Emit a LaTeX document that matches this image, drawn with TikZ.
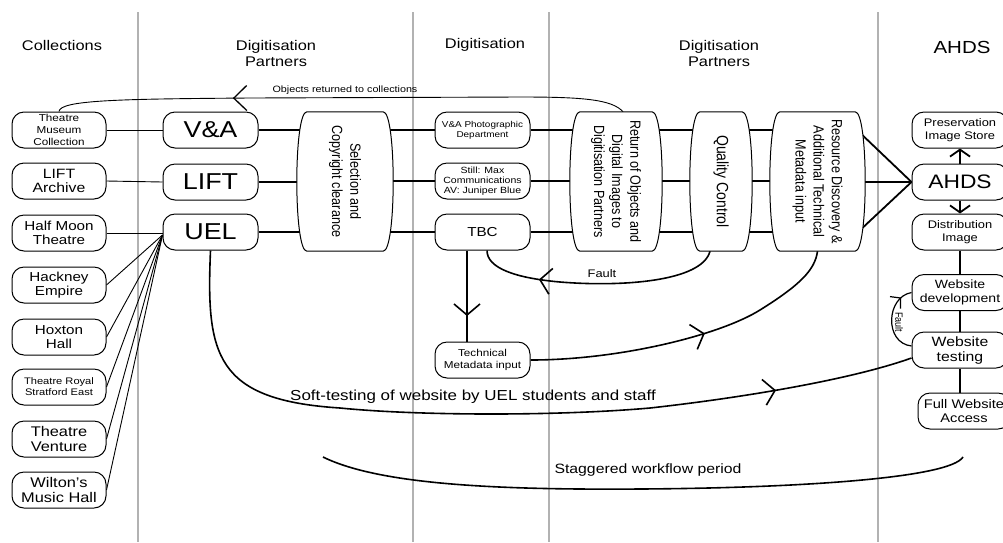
\documentclass[tikz,border=0pt]{standalone}
\usepackage{fontspec}
\setmainfont{Liberation Sans}[FakeStretch=1.17]
\newfontfamily\rotfont{Liberation Sans}
\usetikzlibrary{arrows.meta,decorations.markings,calc}
\pgfdeclarelayer{grid}
\pgfdeclarelayer{background}
\pgfsetlayers{grid,background,main}
\newcommand\fs[2]{\fontsize{#1}{#2}\selectfont}
\newcommand\barrelbox[1]{%
  \draw[barrelline] let \p1=(#1.north west), \p2=(#1.south east) in
    (\x1+10pt,\y1) -- (\x2-10pt,\y1)
    .. controls (\x2+3.33pt,\y1) and (\x2+3.33pt,\y2) .. (\x2-10pt,\y2)
    -- (\x1+10pt,\y2)
    .. controls (\x1-3.33pt,\y2) and (\x1-3.33pt,\y1) .. (\x1+10pt,\y1) -- cycle;}
\begin{document}
\begin{tikzpicture}[x=1pt,y=-1pt,
  box/.style={draw,line width=1pt,rounded corners=12pt,fill=white,
    minimum width=94pt,minimum height=36pt,inner sep=1pt,align=center},
  frame/.style={minimum width=#1,minimum height=139pt,inner sep=0pt},
  barrelline/.style={line width=1pt,fill=white},
  rottext/.style={rotate=-90,yscale=1.17,align=center,font=\rotfont\fs{12.6}{15.5}},
  hdr/.style={align=center,font=\fs{14}{16}},
  gridline/.style={line width=2.6pt,color=black!30},
  thinline/.style={line width=0.9pt},
  flow/.style={line width=1.8pt},
  curve/.style={line width=1.6pt},
  midarr/.style={postaction={decorate},decoration={markings,
    mark=at position #1 with {\arrow{Straight Barb[length=11pt,width=26pt,line width=1.6pt]}}}},
  midarrsmall/.style={postaction={decorate},decoration={markings,
    mark=at position #1 with {\arrow{Straight Barb[length=7pt,width=16pt,line width=1.2pt]}}}},
  midarrthin/.style={postaction={decorate},decoration={markings,
    mark=at position #1 with {\arrow{Straight Barb[length=13pt,width=25pt,line width=1.3pt]}}}},
  endarr/.style={-{Straight Barb[length=7pt,width=20pt,line width=1.8pt]}}
]
\path[use as bounding box] (0,0) rectangle (1003,542);

% headers
\node[hdr] (h1) at (62,45) {Collections};
\node[hdr] (h2) at (276,53.5) {Digitisation\\Partners};
\node[hdr] (h3) at (485,45) {Digitisation};
\node[hdr] (h4) at (719,53.5) {Digitisation\\Partners};
\node[hdr,font=\fs{17.5}{20}] (h5) at (962,47) {AHDS};

% collections
\node[box,font=\fs{10}{12}] (tmc) at (59,130) {Theatre\\Museum\\Collection};
\node[box,font=\fs{13.5}{14.5}] (lfa) at (59,181) {LIFT\\Archive};
\node[box,font=\fs{13}{14.5}] (hmt) at (59,233) {Half Moon\\Theatre};
\node[box,font=\fs{13}{14.5}] (hke) at (59,285) {Hackney\\Empire};
\node[box,font=\fs{13}{14.5}] (hxh) at (59,337) {Hoxton\\Hall};
\node[box,font=\fs{9.5}{11}] (trs) at (59,387) {Theatre Royal\\Stratford East};
\node[box,font=\fs{14}{15}] (tve) at (59,439) {Theatre\\Venture};
\node[box,font=\fs{14}{15}] (wmh) at (59,490) {Wilton's\\Music Hall};

% partners
\node[box,font=\fs{23}{25},minimum width=95pt] (va) at (210.5,130) {V\&A};
\node[box,font=\fs{23}{25},minimum width=95pt] (li) at (210.5,182) {LIFT};
\node[box,font=\fs{23}{25},minimum width=95pt] (ue) at (210.5,232) {UEL};

% barrel frames
\node[frame=96pt] (sel) at (345,181.5) {};
\node[frame=92pt] (ret) at (616,181.5) {};
\node[frame=62pt] (qc) at (721,181.5) {};
\node[frame=95pt] (rd) at (817.5,181.5) {};
\barrelbox{sel}
\barrelbox{ret}
\barrelbox{qc}
\barrelbox{rd}
\node[rottext] (selt) at (sel.center) {Selection and\\Copyright clearance};
\node[rottext] (rett) at (ret.center) {Return of Objects and\\Digital Images to\\Digitisation Partners};
\node[rottext,font=\rotfont\fs{14}{16}] (qct) at (qc.center) {Quality Control};
\node[rottext] (rdt) at (rd.center) {Resource Discovery \&\\Additional Technical\\Metadata input};

% digitisation
\node[box,font=\fs{8.5}{10},minimum width=95pt] (vp) at (482.5,130) {V\&A Photographic\\Department};
\node[box,font=\fs{9}{10},minimum width=95pt] (st) at (482.5,181) {Still: Max\\Communications\\AV: Juniper Blue};
\node[box,font=\fs{13}{14},minimum width=95pt] (tb) at (482.5,232) {TBC};
\node[box,font=\fs{10}{12},minimum width=95pt] (tmi) at (482.5,360) {Technical\\Metadata input};

% AHDS
\node[box,font=\fs{11}{13},minimum width=96pt] (pis) at (960,130) {Preservation\\Image Store};
\node[box,font=\fs{19.5}{21},minimum width=96pt] (ahd) at (960,182) {AHDS};
\node[box,font=\fs{11}{13},minimum width=96pt] (dis) at (960,232) {Distribution\\Image};
\node[box,font=\fs{12}{14},minimum width=96pt] (wdv) at (960,292.5) {Website\\development};
\node[box,font=\fs{13.5}{15},minimum width=96pt] (wts) at (960,350) {Website\\testing};
\node[box,font=\fs{12.5}{14},minimum width=92pt] (fwa) at (964,411) {Full Website\\Access};

% labels
\node[font=\fs{9.2}{10}] (objl) at (345,90) {Objects returned to collections};
\node[font=\fs{11}{12}] (flt1) at (602,274) {Fault};
\node[rotate=-90,yscale=1.17,font=\rotfont\fs{9}{10}] (flt2) at (899,322) {Fault};
\node[font=\fs{14.5}{16}] (soft) at (473,397) {Soft-testing of website by UEL students and staff};
\node[font=\fs{13.5}{15}] (stg) at (648,470) {Staggered workflow period};

\begin{pgfonlayer}{grid}
  \fill[white] (0,0) rectangle (1003,542);
  \foreach \gx in {138,413,549,878}
    \draw[gridline] (\gx,12) -- (\gx,542);
\end{pgfonlayer}

\begin{pgfonlayer}{background}
  % collections to partners
  \draw[thinline] (tmc.east) -- (va.west);
  \draw[thinline] (lfa.east) -- (li.west);
  \draw[thinline] (hmt.east) -- (hmt.east -| ue.west);
  \coordinate (uefan) at ([yshift=-3pt]ue.west);
  \foreach \n in {hke,hxh,trs,tve,wmh}
    \draw[thinline] (\n.east) -- (uefan);
  % main flow
  \foreach \a in {va,li,ue}
    \draw[flow] (\a.east) -- (\a.east -| sel.center);
  \foreach \b in {vp,st,tb} {
    \draw[flow] (\b.west -| sel.center) -- (\b.west);
    \draw[flow] (\b.east) -- (\b.east -| ret.center);
    \draw[flow] (ret.center |- \b.east) -- (rd.center |- \b.east);
  }
  \coordinate (rdA) at (857,130);
  \coordinate (rdB) at (857,182);
  \coordinate (rdC) at (857,233);
  \draw[flow] (rdA) -- (ahd.west);
  \draw[flow] (rdB) -- (ahd.west);
  \draw[flow] (rdC) -- (ahd.west);
  % AHDS column
  \draw[flow,endarr] (ahd.north) -- (pis.south);
  \draw[flow,endarr] (ahd.south) -- (dis.north);
  \draw[flow] (dis.south) -- (wdv.north);
  \draw[flow] (wdv.south) -- (wts.north);
  \draw[flow] (wts.south) -- (wts.south |- fwa.north);
  % website fault loop
  \draw[line width=1.2pt,midarrsmall=0.84] ([yshift=4pt]wts.west) .. controls (884,343) and (886,297) .. (wdv.west);
  % objects returned
  \draw[thinline,midarrthin=0.69] ([xshift=7pt]ret.north) .. controls (612,99) and (580,97) .. (520,97)
     -- (250,98) .. controls (120,99) and (60,100) .. (tmc.north);
  % fault QC -> TBC
  \draw[curve,midarr=0.74] ([xshift=-11pt]qc.south) .. controls (702,282) and (620,287) .. (560,282)
     .. controls (515,278) and (487,268) .. ([xshift=4.5pt]tb.south);
  % TBC -> technical metadata
  \draw[curve,midarr=0.72] ([xshift=-15.5pt]tb.south) -- ([xshift=-15.5pt]tmi.north);
  % technical metadata -> resource discovery
  \draw[curve,midarr=0.55] (tmi.east) .. controls (620,360) and (720,335) .. (760,310)
     .. controls (800,285) and (815,270) .. (rd.south);
  % soft testing
  \draw[curve,midarr=0.83] (ue.south) .. controls (206,355) and (215,400) .. (340,408)
     .. controls (420,416) and (560,416) .. (650,408)
     .. controls (740,398) and (850,380) .. ([yshift=-8pt]wts.west);
  % staggered workflow
  \coordinate (sg1) at (323,457);
  \coordinate (sg2) at (963,457);
  \draw[curve] (sg1) .. controls (380,485) and (500,490) .. (640,489)
     .. controls (800,488) and (950,478) .. (sg2);
\end{pgfonlayer}
\end{tikzpicture}
\end{document}
